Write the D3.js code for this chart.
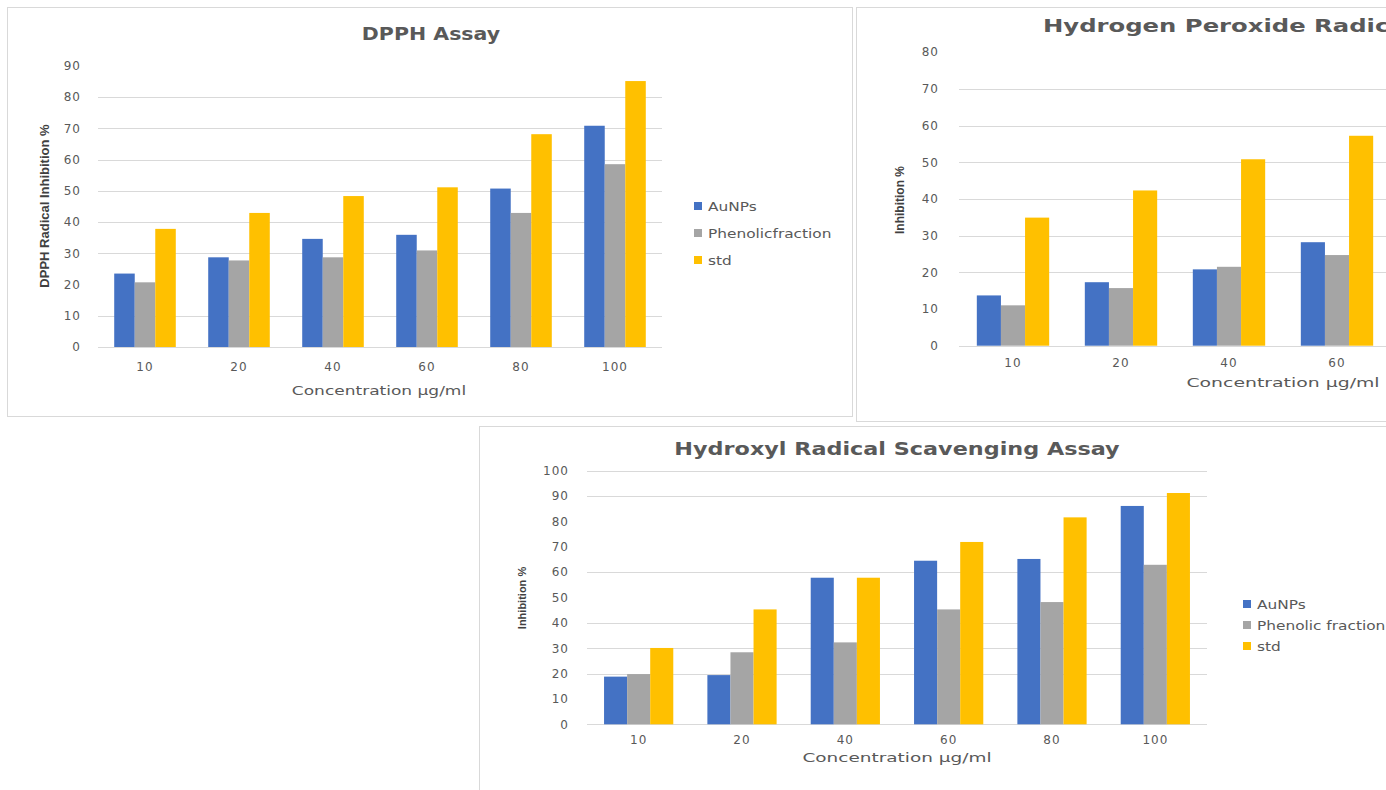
<!DOCTYPE html>
<html>
<head>
<meta charset="utf-8">
<script src="https://cdn.jsdelivr.net/npm/d3@7"></script>
<style>
  body { margin: 0; background: #fff; }
  svg { display: block; }
</style>
</head>
<body>
<div class="charts"></div>
<script>
const width = 1386;
const height = 790;

const concentrations = ["10", "20", "40", "60", "80", "100"];
const seriesNames = ["AuNPs", "Phenolicfraction", "std"];
const seriesLabelsOH = ["AuNPs", "Phenolic fraction", "std"];
const seriesColors = ["#4472c4", "#a5a5a5", "#ffc000"];

// DPPH assay
const dpphAuNPs = [23.5, 28.7, 34.6, 35.9, 50.7, 70.8];
const dpphPhenolic = [20.7, 27.7, 28.7, 30.9, 42.9, 58.5];
const dpphStd = [37.8, 42.9, 48.3, 51.1, 68.1, 85.1];
const dpphTicks = [0, 10, 20, 30, 40, 50, 60, 70, 80, 90];
const dpphGrid = [0, 10, 30, 40, 50, 60, 70, 80];

// Hydrogen peroxide assay (80 and 100 fall outside the window)
const h2o2AuNPs = [13.7, 17.3, 20.8, 28.2, 33.5, 40.2];
const h2o2Phenolic = [11.0, 15.7, 21.5, 24.7, 29.8, 35.6];
const h2o2Std = [34.9, 42.3, 50.8, 57.2, 63.5, 70.4];
const h2o2Ticks = [0, 10, 20, 30, 40, 50, 60, 70, 80];
const h2o2Grid = [0, 20, 30, 40, 50, 60, 70];

// Hydroxyl radical assay
const ohAuNPs = [18.8, 19.4, 57.8, 64.5, 65.2, 86.1];
const ohPhenolic = [19.8, 28.4, 32.3, 45.3, 48.2, 62.9];
const ohStd = [30.1, 45.3, 57.8, 71.9, 81.6, 91.2];
const ohTicks = [0, 10, 20, 30, 40, 50, 60, 70, 80, 90, 100];
const ohGrid = [0, 20, 30, 40, 60, 90, 100];

const svg = d3
    .select(".charts")
    .append("svg")
    .attr("width", width)
    .attr("height", height);

const textColor = "#595959";

// panel frames
svg.append("rect").attr("x", 7.5).attr("y", 7.5).attr("width", 845).attr("height", 409)
    .attr("fill", "#fff").attr("stroke", "#d9d9d9");
svg.append("rect").attr("x", 856.5).attr("y", 7.5).attr("width", 600).attr("height", 414)
    .attr("fill", "#fff").attr("stroke", "#d9d9d9");
svg.append("rect").attr("x", 479.5).attr("y", 426.5).attr("width", 1000).attr("height", 400)
    .attr("fill", "#fff").attr("stroke", "#d9d9d9");

// the source picture is stretched sideways, so text gets a horizontal scale
function wideText(parent, str, x, y, sx, anchor, size, weight) {
    return parent.append("text")
        .text(str)
        .attr("transform", `translate(${x},${y}) scale(${sx},1)`)
        .attr("text-anchor", anchor)
        .attr("fill", textColor)
        .style("font-family", "DejaVu Sans")
        .style("font-weight", weight || "normal")
        .style("font-size", size + "px");
}

function barChart(o) {
    const g = svg.append("g");
    const rows = concentrations.map((c, i) => ({
        cat: c,
        vals: o.series.map((s, j) => ({ name: seriesNames[j], v: s[i], color: seriesColors[j] })),
    }));

    const x = d3.scaleBand().domain(concentrations)
        .range([o.left, o.right]).paddingInner(o.pad).paddingOuter(o.pad / 2);
    const xs = d3.scaleBand().domain(seriesNames).range([0, x.bandwidth()]);
    const y = d3.scaleLinear().domain([0, o.yMax]).range([o.base, o.top]);

    // gridlines
    g.selectAll(".grid")
        .data(o.grid)
        .enter()
        .append("line")
        .attr("x1", o.left).attr("x2", o.right)
        .attr("y1", (d) => Math.round(y(d)) + 0.5)
        .attr("y2", (d) => Math.round(y(d)) + 0.5)
        .attr("stroke", "#d9d9d9").attr("stroke-width", 1.2);

    // y ticks
    const yAxis = g.append("g")
        .attr("transform", `translate(${o.tickX},0)`)
        .call(d3.axisLeft(y).tickValues(o.ticks).tickSize(0).tickPadding(0));
    yAxis.select(".domain").remove();
    yAxis.selectAll("text")
        .attr("fill", textColor)
        .style("font-family", "DejaVu Sans")
        .style("letter-spacing", "1px")
        .style("font-size", o.tickSize + "px");

    // bars
    g.selectAll(".group")
        .data(rows)
        .enter()
        .append("g")
        .attr("transform", (d) => `translate(${x(d.cat)},0)`)
        .selectAll("rect")
        .data((d) => d.vals)
        .enter()
        .append("rect")
        .attr("x", (d) => xs(d.name))
        .attr("width", xs.bandwidth())
        .attr("y", (d) => y(d.v))
        .attr("height", (d) => y(0) - y(d.v))
        .attr("fill", (d) => d.color);

    // x ticks
    const xAxis = g.append("g")
        .attr("transform", `translate(0,${o.base})`)
        .call(d3.axisBottom(x).tickSize(0).tickPadding(o.xTickPad));
    xAxis.select(".domain").remove();
    xAxis.selectAll("text")
        .attr("fill", textColor)
        .style("font-family", "DejaVu Sans")
        .style("letter-spacing", "1px")
        .style("font-size", o.tickSize + "px");

    // titles
    wideText(g, o.title, o.titleX, o.titleY, o.titleScale, o.titleAnchor || "middle",
        o.titleSize, o.titleWeight);
    wideText(g, "Concentration µg/ml", o.xTitleX, o.xTitleY, o.xTitleScale, "middle", o.xTitleSize);

    g.append("text")
        .text(o.yTitle)
        .attr("transform", `translate(${o.yTitleX},${o.yTitleY}) rotate(-90)`)
        .attr("text-anchor", "middle")
        .attr("fill", "#404040")
        .style("font-family", "Liberation Sans Narrow, Liberation Sans")
        .style("font-weight", "bold")
        .style("font-size", o.yTitleSize + "px");

    // legend
    const leg = g.selectAll(".legend")
        .data(o.legendLabels)
        .enter()
        .append("g")
        .attr("transform", (d, i) => `translate(${o.legX},${o.legY + i * o.legStep})`);
    leg.append("rect")
        .attr("x", 0).attr("y", -4).attr("width", 8).attr("height", 8)
        .attr("fill", (d, i) => seriesColors[i]);
    leg.each(function (d) {
        wideText(d3.select(this), d, 14, 4.5, 1.28, "start", 12);
    });
}

barChart({
    series: [dpphAuNPs, dpphPhenolic, dpphStd],
    left: 98, right: 662, base: 347, top: 65.75, yMax: 90,
    ticks: dpphTicks, grid: dpphGrid, pad: 0.345,
    tickX: 81, tickSize: 12, xTickPad: 15,
    title: "DPPH Assay", titleX: 431, titleY: 40, titleSize: 18, titleWeight: 600, titleScale: 1.14,
    xTitleX: 379, xTitleY: 395, xTitleSize: 13, xTitleScale: 1.31,
    yTitle: "DPPH Radical Inhibition %", yTitleX: 49, yTitleY: 206, yTitleSize: 13,
    legendLabels: seriesNames, legX: 694, legY: 206, legStep: 27,
});

barChart({
    series: [h2o2AuNPs, h2o2Phenolic, h2o2Std],
    left: 959, right: 1607, base: 345.7, top: 52.1, yMax: 80,
    ticks: h2o2Ticks, grid: h2o2Grid, pad: 0.33,
    tickX: 939, tickSize: 12, xTickPad: 13,
    title: "Hydrogen Peroxide Radical Scavenging Assay", titleX: 1043, titleY: 32, titleAnchor: "start",
    titleSize: 18, titleWeight: "bold", titleScale: 1.35,
    xTitleX: 1283, xTitleY: 387, xTitleSize: 13, xTitleScale: 1.45,
    yTitle: "Inhibition %", yTitleX: 904, yTitleY: 200, yTitleSize: 12,
    legendLabels: seriesNames, legX: 1660, legY: 206, legStep: 27,
});

barChart({
    series: [ohAuNPs, ohPhenolic, ohStd],
    left: 587, right: 1207, base: 724.3, top: 470.7, yMax: 100,
    ticks: ohTicks, grid: ohGrid, pad: 0.33,
    tickX: 569, tickSize: 12, xTickPad: 11,
    title: "Hydroxyl Radical Scavenging Assay", titleX: 897, titleY: 455, titleSize: 18,
    titleWeight: "bold", titleScale: 1.24,
    xTitleX: 897, xTitleY: 762, xTitleSize: 13, xTitleScale: 1.42,
    yTitle: "Inhibition %", yTitleX: 526, yTitleY: 598, yTitleSize: 11,
    legendLabels: seriesLabelsOH, legX: 1243, legY: 604, legStep: 21,
});
</script>
</body>
</html>
